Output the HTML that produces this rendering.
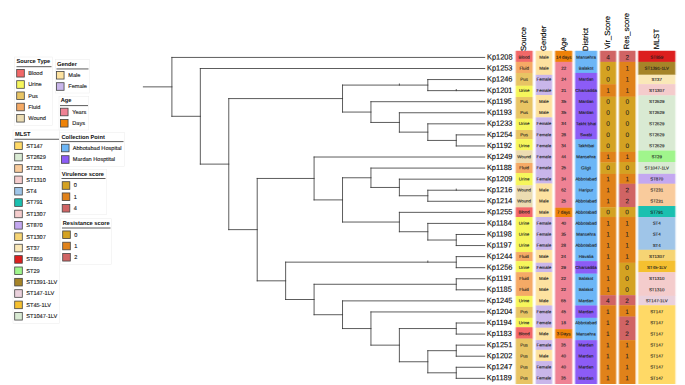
<!DOCTYPE html>
<html><head><meta charset="utf-8"><title>tree</title>
<style>
html,body{margin:0;padding:0;background:#fff;}
body{width:685px;height:385px;overflow:hidden;}
svg{display:block;font-family:"Liberation Sans",sans-serif;text-rendering:geometricPrecision;}
</style></head><body>
<svg width="685" height="385" viewBox="0 0 685 385">
<rect width="685" height="385" fill="#fff"/>
<path d="M427.82 79.56L427.82 90.63M427.82 79.56L484.70 79.56M427.82 90.63L484.70 90.63M456.26 134.89L456.26 145.96M456.26 134.89L484.70 134.89M456.26 145.96L484.70 145.96M427.82 123.83L427.82 140.43M427.82 123.83L484.70 123.83M427.82 140.43L456.26 140.43M399.39 112.76L399.39 132.13M399.39 112.76L484.70 112.76M399.39 132.13L427.82 132.13M370.95 101.69L370.95 122.44M370.95 101.69L484.70 101.69M370.95 122.44L399.39 122.44M342.52 85.09L342.52 112.07M342.52 85.09L427.82 85.09M342.52 112.07L370.95 112.07M427.82 190.22L427.82 201.29M427.82 190.22L484.70 190.22M427.82 201.29L484.70 201.29M399.39 179.16L399.39 195.75M399.39 179.16L484.70 179.16M399.39 195.75L427.82 195.75M370.95 168.09L370.95 187.46M370.95 168.09L484.70 168.09M370.95 187.46L399.39 187.46M456.26 234.49L456.26 245.55M456.26 234.49L484.70 234.49M456.26 245.55L484.70 245.55M427.82 223.42L427.82 240.02M427.82 223.42L484.70 223.42M427.82 240.02L456.26 240.02M399.39 212.35L399.39 231.72M399.39 212.35L484.70 212.35M399.39 231.72L427.82 231.72M342.52 177.77L342.52 222.04M342.52 177.77L370.95 177.77M342.52 222.04L399.39 222.04M314.08 157.02L314.08 199.90M314.08 157.02L484.70 157.02M314.08 199.90L342.52 199.90M456.26 256.62L456.26 267.68M456.26 256.62L484.70 256.62M456.26 267.68L484.70 267.68M456.26 278.75L456.26 289.82M456.26 278.75L484.70 278.75M456.26 289.82L484.70 289.82M456.26 323.01L456.26 334.08M456.26 323.01L484.70 323.01M456.26 334.08L484.70 334.08M456.26 345.15L456.26 356.21M456.26 345.15L484.70 345.15M456.26 356.21L484.70 356.21M456.26 367.28L456.26 378.34M456.26 367.28L484.70 367.28M456.26 378.34L484.70 378.34M427.82 350.68L427.82 372.81M427.82 350.68L456.26 350.68M427.82 372.81L456.26 372.81M399.39 328.55L399.39 361.75M399.39 328.55L456.26 328.55M399.39 361.75L427.82 361.75M370.95 311.95L370.95 345.15M370.95 311.95L484.70 311.95M370.95 345.15L399.39 345.15M342.52 300.88L342.52 328.55M342.52 300.88L484.70 300.88M342.52 328.55L370.95 328.55M314.08 284.28L314.08 314.71M314.08 284.28L456.26 284.28M314.08 314.71L342.52 314.71M285.64 262.15L285.64 299.50M285.64 262.15L456.26 262.15M285.64 299.50L314.08 299.50M257.21 178.46L257.21 280.82M257.21 178.46L314.08 178.46M257.21 280.82L285.64 280.82M228.77 98.58L228.77 229.64M228.77 98.58L342.52 98.58M228.77 229.64L257.21 229.64M200.34 68.50L200.34 164.11M200.34 68.50L484.70 68.50M200.34 164.11L228.77 164.11M171.90 57.43L171.90 116.30M171.90 57.43L484.70 57.43M171.90 116.30L200.34 116.30M143.40 86.87L171.90 86.87M399.39 84.00L399.39 85.09M456.26 89.53L456.26 90.63M456.26 189.12L456.26 190.22M427.82 261.05L427.82 262.15" fill="none" stroke="#333" stroke-width="0.8" stroke-linecap="square"/>
<g font-size="7.6" fill="#0c0c0c" stroke="#0c0c0c" stroke-width="0.14" transform="rotate(0.03)">
<text transform="translate(487.0 59.18) scale(0.975 1)">Kp1208</text>
<text transform="translate(487.0 70.25) scale(0.975 1)">Kp1253</text>
<text transform="translate(487.0 81.31) scale(0.975 1)">Kp1246</text>
<text transform="translate(487.0 92.38) scale(0.975 1)">Kp1201</text>
<text transform="translate(487.0 103.44) scale(0.975 1)">Kp1195</text>
<text transform="translate(487.0 114.51) scale(0.975 1)">Kp1193</text>
<text transform="translate(487.0 125.58) scale(0.975 1)">Kp1233</text>
<text transform="translate(487.0 136.64) scale(0.975 1)">Kp1254</text>
<text transform="translate(487.0 147.71) scale(0.975 1)">Kp1192</text>
<text transform="translate(487.0 158.77) scale(0.975 1)">Kp1249</text>
<text transform="translate(487.0 169.84) scale(0.975 1)">Kp1188</text>
<text transform="translate(487.0 180.91) scale(0.975 1)">Kp1209</text>
<text transform="translate(487.0 191.97) scale(0.975 1)">Kp1216</text>
<text transform="translate(487.0 203.04) scale(0.975 1)">Kp1214</text>
<text transform="translate(487.0 214.10) scale(0.975 1)">Kp1255</text>
<text transform="translate(487.0 225.17) scale(0.975 1)">Kp1184</text>
<text transform="translate(487.0 236.24) scale(0.975 1)">Kp1198</text>
<text transform="translate(487.0 247.30) scale(0.975 1)">Kp1197</text>
<text transform="translate(487.0 258.37) scale(0.975 1)">Kp1244</text>
<text transform="translate(487.0 269.43) scale(0.975 1)">Kp1256</text>
<text transform="translate(487.0 280.50) scale(0.975 1)">Kp1191</text>
<text transform="translate(487.0 291.57) scale(0.975 1)">Kp1185</text>
<text transform="translate(487.0 302.63) scale(0.975 1)">Kp1245</text>
<text transform="translate(487.0 313.70) scale(0.975 1)">Kp1204</text>
<text transform="translate(487.0 324.76) scale(0.975 1)">Kp1194</text>
<text transform="translate(487.0 335.83) scale(0.975 1)">Kp1183</text>
<text transform="translate(487.0 346.90) scale(0.975 1)">Kp1251</text>
<text transform="translate(487.0 357.96) scale(0.975 1)">Kp1202</text>
<text transform="translate(487.0 369.03) scale(0.975 1)">Kp1247</text>
<text transform="translate(487.0 380.09) scale(0.975 1)">Kp1189</text>
</g>
<rect x="514.70" y="50.85" width="19.00" height="11.06" fill="#f26868" opacity="0.2"/>
<rect x="515.50" y="50.85" width="17.40" height="11.06" fill="#f26868" opacity="0.45"/>
<rect x="516.25" y="50.85" width="15.90" height="11.06" fill="#f26868"/>
<rect x="514.70" y="61.91" width="19.00" height="11.10" fill="#f5aa66" opacity="0.2"/>
<rect x="515.50" y="61.91" width="17.40" height="11.10" fill="#f5aa66" opacity="0.45"/>
<rect x="516.25" y="61.91" width="15.90" height="11.10" fill="#f5aa66"/>
<rect x="514.70" y="73.00" width="19.00" height="12.80" fill="#e8c464" opacity="0.2"/>
<rect x="515.50" y="73.00" width="17.40" height="12.80" fill="#e8c464" opacity="0.45"/>
<rect x="516.25" y="73.00" width="15.90" height="12.80" fill="#e8c464"/>
<rect x="514.70" y="85.80" width="19.00" height="11.25" fill="#f6f65c" opacity="0.2"/>
<rect x="515.50" y="85.80" width="17.40" height="11.25" fill="#f6f65c" opacity="0.45"/>
<rect x="516.25" y="85.80" width="15.90" height="11.25" fill="#f6f65c"/>
<rect x="514.70" y="97.04" width="19.00" height="21.71" fill="#e8c464" opacity="0.2"/>
<rect x="515.50" y="97.04" width="17.40" height="21.71" fill="#e8c464" opacity="0.45"/>
<rect x="516.25" y="97.04" width="15.90" height="21.71" fill="#e8c464"/>
<rect x="514.70" y="118.76" width="19.00" height="11.29" fill="#f6f65c" opacity="0.2"/>
<rect x="515.50" y="118.76" width="17.40" height="11.29" fill="#f6f65c" opacity="0.45"/>
<rect x="516.25" y="118.76" width="15.90" height="11.29" fill="#f6f65c"/>
<rect x="514.70" y="130.04" width="19.00" height="9.14" fill="#e8c464" opacity="0.2"/>
<rect x="515.50" y="130.04" width="17.40" height="9.14" fill="#e8c464" opacity="0.45"/>
<rect x="516.25" y="130.04" width="15.90" height="9.14" fill="#e8c464"/>
<rect x="514.70" y="139.18" width="19.00" height="11.32" fill="#f6f65c" opacity="0.2"/>
<rect x="515.50" y="139.18" width="17.40" height="11.32" fill="#f6f65c" opacity="0.45"/>
<rect x="516.25" y="139.18" width="15.90" height="11.32" fill="#f6f65c"/>
<rect x="514.70" y="150.49" width="19.00" height="12.52" fill="#ecdcb2" opacity="0.2"/>
<rect x="515.50" y="150.49" width="17.40" height="12.52" fill="#ecdcb2" opacity="0.45"/>
<rect x="516.25" y="150.49" width="15.90" height="12.52" fill="#ecdcb2"/>
<rect x="514.70" y="163.01" width="19.00" height="10.02" fill="#f5aa66" opacity="0.2"/>
<rect x="515.50" y="163.01" width="17.40" height="10.02" fill="#f5aa66" opacity="0.45"/>
<rect x="516.25" y="163.01" width="15.90" height="10.02" fill="#f5aa66"/>
<rect x="514.70" y="173.03" width="19.00" height="12.44" fill="#f6f65c" opacity="0.2"/>
<rect x="515.50" y="173.03" width="17.40" height="12.44" fill="#f6f65c" opacity="0.45"/>
<rect x="516.25" y="173.03" width="15.90" height="12.44" fill="#f6f65c"/>
<rect x="514.70" y="185.46" width="19.00" height="22.01" fill="#ecdcb2" opacity="0.2"/>
<rect x="515.50" y="185.46" width="17.40" height="22.01" fill="#ecdcb2" opacity="0.45"/>
<rect x="516.25" y="185.46" width="15.90" height="22.01" fill="#ecdcb2"/>
<rect x="514.70" y="207.47" width="19.00" height="9.57" fill="#f26868" opacity="0.2"/>
<rect x="515.50" y="207.47" width="17.40" height="9.57" fill="#f26868" opacity="0.45"/>
<rect x="516.25" y="207.47" width="15.90" height="9.57" fill="#f26868"/>
<rect x="514.70" y="217.04" width="19.00" height="35.08" fill="#f6f65c" opacity="0.2"/>
<rect x="515.50" y="217.04" width="17.40" height="35.08" fill="#f6f65c" opacity="0.45"/>
<rect x="516.25" y="217.04" width="15.90" height="35.08" fill="#f6f65c"/>
<rect x="514.70" y="252.12" width="19.00" height="9.09" fill="#f5aa66" opacity="0.2"/>
<rect x="515.50" y="252.12" width="17.40" height="9.09" fill="#f5aa66" opacity="0.45"/>
<rect x="516.25" y="252.12" width="15.90" height="9.09" fill="#f5aa66"/>
<rect x="514.70" y="261.20" width="19.00" height="11.05" fill="#f6f65c" opacity="0.2"/>
<rect x="515.50" y="261.20" width="17.40" height="11.05" fill="#f6f65c" opacity="0.45"/>
<rect x="516.25" y="261.20" width="15.90" height="11.05" fill="#f6f65c"/>
<rect x="514.70" y="272.25" width="19.00" height="23.68" fill="#f5aa66" opacity="0.2"/>
<rect x="515.50" y="272.25" width="17.40" height="23.68" fill="#f5aa66" opacity="0.45"/>
<rect x="516.25" y="272.25" width="15.90" height="23.68" fill="#f5aa66"/>
<rect x="514.70" y="295.93" width="19.00" height="11.05" fill="#f6f65c" opacity="0.2"/>
<rect x="515.50" y="295.93" width="17.40" height="11.05" fill="#f6f65c" opacity="0.45"/>
<rect x="516.25" y="295.93" width="15.90" height="11.05" fill="#f6f65c"/>
<rect x="514.70" y="306.98" width="19.00" height="10.91" fill="#e8c464" opacity="0.2"/>
<rect x="515.50" y="306.98" width="17.40" height="10.91" fill="#e8c464" opacity="0.45"/>
<rect x="516.25" y="306.98" width="15.90" height="10.91" fill="#e8c464"/>
<rect x="514.70" y="317.88" width="19.00" height="9.47" fill="#f6f65c" opacity="0.2"/>
<rect x="515.50" y="317.88" width="17.40" height="9.47" fill="#f6f65c" opacity="0.45"/>
<rect x="516.25" y="317.88" width="15.90" height="9.47" fill="#f6f65c"/>
<rect x="514.70" y="327.35" width="19.00" height="11.35" fill="#f26868" opacity="0.2"/>
<rect x="515.50" y="327.35" width="17.40" height="11.35" fill="#f26868" opacity="0.45"/>
<rect x="516.25" y="327.35" width="15.90" height="11.35" fill="#f26868"/>
<rect x="514.70" y="338.70" width="19.00" height="45.30" fill="#e8c464" opacity="0.2"/>
<rect x="515.50" y="338.70" width="17.40" height="45.30" fill="#e8c464" opacity="0.45"/>
<rect x="516.25" y="338.70" width="15.90" height="45.30" fill="#e8c464"/>
<rect x="534.70" y="50.85" width="18.50" height="24.05" fill="#fde2a0" opacity="0.2"/>
<rect x="535.50" y="50.85" width="16.90" height="24.05" fill="#fde2a0" opacity="0.45"/>
<rect x="536.25" y="50.85" width="15.40" height="24.05" fill="#fde2a0"/>
<rect x="534.70" y="74.90" width="18.50" height="20.26" fill="#c9b6ea" opacity="0.2"/>
<rect x="535.50" y="74.90" width="16.90" height="20.26" fill="#c9b6ea" opacity="0.45"/>
<rect x="536.25" y="74.90" width="15.40" height="20.26" fill="#c9b6ea"/>
<rect x="534.70" y="95.16" width="18.50" height="22.33" fill="#fde2a0" opacity="0.2"/>
<rect x="535.50" y="95.16" width="16.90" height="22.33" fill="#fde2a0" opacity="0.45"/>
<rect x="536.25" y="95.16" width="15.40" height="22.33" fill="#fde2a0"/>
<rect x="534.70" y="117.50" width="18.50" height="66.10" fill="#c9b6ea" opacity="0.2"/>
<rect x="535.50" y="117.50" width="16.90" height="66.10" fill="#c9b6ea" opacity="0.45"/>
<rect x="536.25" y="117.50" width="15.40" height="66.10" fill="#c9b6ea"/>
<rect x="534.70" y="183.59" width="18.50" height="33.45" fill="#fde2a0" opacity="0.2"/>
<rect x="535.50" y="183.59" width="16.90" height="33.45" fill="#fde2a0" opacity="0.45"/>
<rect x="536.25" y="183.59" width="15.40" height="33.45" fill="#fde2a0"/>
<rect x="534.70" y="217.04" width="18.50" height="32.88" fill="#c9b6ea" opacity="0.2"/>
<rect x="535.50" y="217.04" width="16.90" height="32.88" fill="#c9b6ea" opacity="0.45"/>
<rect x="536.25" y="217.04" width="15.40" height="32.88" fill="#c9b6ea"/>
<rect x="534.70" y="249.92" width="18.50" height="12.92" fill="#fde2a0" opacity="0.2"/>
<rect x="535.50" y="249.92" width="16.90" height="12.92" fill="#fde2a0" opacity="0.45"/>
<rect x="536.25" y="249.92" width="15.40" height="12.92" fill="#fde2a0"/>
<rect x="534.70" y="262.83" width="18.50" height="9.42" fill="#c9b6ea" opacity="0.2"/>
<rect x="535.50" y="262.83" width="16.90" height="9.42" fill="#c9b6ea" opacity="0.45"/>
<rect x="536.25" y="262.83" width="15.40" height="9.42" fill="#c9b6ea"/>
<rect x="534.70" y="272.25" width="18.50" height="33.35" fill="#fde2a0" opacity="0.2"/>
<rect x="535.50" y="272.25" width="16.90" height="33.35" fill="#fde2a0" opacity="0.45"/>
<rect x="536.25" y="272.25" width="15.40" height="33.35" fill="#fde2a0"/>
<rect x="534.70" y="305.60" width="18.50" height="22.20" fill="#c9b6ea" opacity="0.2"/>
<rect x="535.50" y="305.60" width="16.90" height="22.20" fill="#c9b6ea" opacity="0.45"/>
<rect x="536.25" y="305.60" width="15.40" height="22.20" fill="#c9b6ea"/>
<rect x="534.70" y="327.80" width="18.50" height="12.40" fill="#fde2a0" opacity="0.2"/>
<rect x="535.50" y="327.80" width="16.90" height="12.40" fill="#fde2a0" opacity="0.45"/>
<rect x="536.25" y="327.80" width="15.40" height="12.40" fill="#fde2a0"/>
<rect x="534.70" y="340.20" width="18.50" height="9.69" fill="#c9b6ea" opacity="0.2"/>
<rect x="535.50" y="340.20" width="16.90" height="9.69" fill="#c9b6ea" opacity="0.45"/>
<rect x="536.25" y="340.20" width="15.40" height="9.69" fill="#c9b6ea"/>
<rect x="534.70" y="349.88" width="18.50" height="11.29" fill="#fde2a0" opacity="0.2"/>
<rect x="535.50" y="349.88" width="16.90" height="11.29" fill="#fde2a0" opacity="0.45"/>
<rect x="536.25" y="349.88" width="15.40" height="11.29" fill="#fde2a0"/>
<rect x="534.70" y="361.17" width="18.50" height="22.83" fill="#c9b6ea" opacity="0.2"/>
<rect x="535.50" y="361.17" width="16.90" height="22.83" fill="#c9b6ea" opacity="0.45"/>
<rect x="536.25" y="361.17" width="15.40" height="22.83" fill="#c9b6ea"/>
<rect x="554.10" y="50.85" width="19.20" height="11.06" fill="#ee8208" opacity="0.2"/>
<rect x="554.90" y="50.85" width="17.60" height="11.06" fill="#ee8208" opacity="0.45"/>
<rect x="555.65" y="50.85" width="16.10" height="11.06" fill="#ee8208"/>
<rect x="554.10" y="61.91" width="19.20" height="145.92" fill="#ef8294" opacity="0.2"/>
<rect x="554.90" y="61.91" width="17.60" height="145.92" fill="#ef8294" opacity="0.45"/>
<rect x="555.65" y="61.91" width="16.10" height="145.92" fill="#ef8294"/>
<rect x="554.10" y="207.82" width="19.20" height="9.22" fill="#ee8208" opacity="0.2"/>
<rect x="554.90" y="207.82" width="17.60" height="9.22" fill="#ee8208" opacity="0.45"/>
<rect x="555.65" y="207.82" width="16.10" height="9.22" fill="#ee8208"/>
<rect x="554.10" y="217.04" width="19.20" height="112.20" fill="#ef8294" opacity="0.2"/>
<rect x="554.90" y="217.04" width="17.60" height="112.20" fill="#ef8294" opacity="0.45"/>
<rect x="555.65" y="217.04" width="16.10" height="112.20" fill="#ef8294"/>
<rect x="554.10" y="329.24" width="19.20" height="9.46" fill="#ee8208" opacity="0.2"/>
<rect x="554.90" y="329.24" width="17.60" height="9.46" fill="#ee8208" opacity="0.45"/>
<rect x="555.65" y="329.24" width="16.10" height="9.46" fill="#ee8208"/>
<rect x="554.10" y="338.70" width="19.20" height="45.30" fill="#ef8294" opacity="0.2"/>
<rect x="554.90" y="338.70" width="17.60" height="45.30" fill="#ef8294" opacity="0.45"/>
<rect x="555.65" y="338.70" width="16.10" height="45.30" fill="#ef8294"/>
<rect x="574.10" y="50.85" width="24.10" height="22.10" fill="#6cb6f6" opacity="0.2"/>
<rect x="574.90" y="50.85" width="22.50" height="22.10" fill="#6cb6f6" opacity="0.45"/>
<rect x="575.65" y="50.85" width="21.00" height="22.10" fill="#6cb6f6"/>
<rect x="574.10" y="72.95" width="24.10" height="66.61" fill="#8c5cf6" opacity="0.2"/>
<rect x="574.90" y="72.95" width="22.50" height="66.61" fill="#8c5cf6" opacity="0.45"/>
<rect x="575.65" y="72.95" width="21.00" height="66.61" fill="#8c5cf6"/>
<rect x="574.10" y="139.56" width="24.10" height="121.65" fill="#6cb6f6" opacity="0.2"/>
<rect x="574.90" y="139.56" width="22.50" height="121.65" fill="#6cb6f6" opacity="0.45"/>
<rect x="575.65" y="139.56" width="21.00" height="121.65" fill="#6cb6f6"/>
<rect x="574.10" y="261.20" width="24.10" height="12.55" fill="#8c5cf6" opacity="0.2"/>
<rect x="574.90" y="261.20" width="22.50" height="12.55" fill="#8c5cf6" opacity="0.45"/>
<rect x="575.65" y="261.20" width="21.00" height="12.55" fill="#8c5cf6"/>
<rect x="574.10" y="273.75" width="24.10" height="31.85" fill="#6cb6f6" opacity="0.2"/>
<rect x="574.90" y="273.75" width="22.50" height="31.85" fill="#6cb6f6" opacity="0.45"/>
<rect x="575.65" y="273.75" width="21.00" height="31.85" fill="#6cb6f6"/>
<rect x="574.10" y="305.60" width="24.10" height="12.29" fill="#8c5cf6" opacity="0.2"/>
<rect x="574.90" y="305.60" width="22.50" height="12.29" fill="#8c5cf6" opacity="0.45"/>
<rect x="575.65" y="305.60" width="21.00" height="12.29" fill="#8c5cf6"/>
<rect x="574.10" y="317.88" width="24.10" height="22.31" fill="#6cb6f6" opacity="0.2"/>
<rect x="574.90" y="317.88" width="22.50" height="22.31" fill="#6cb6f6" opacity="0.45"/>
<rect x="575.65" y="317.88" width="21.00" height="22.31" fill="#6cb6f6"/>
<rect x="574.10" y="340.20" width="24.10" height="43.80" fill="#8c5cf6" opacity="0.2"/>
<rect x="574.90" y="340.20" width="22.50" height="43.80" fill="#8c5cf6" opacity="0.45"/>
<rect x="575.65" y="340.20" width="21.00" height="43.80" fill="#8c5cf6"/>
<rect x="599.00" y="50.85" width="18.20" height="11.06" fill="#d06464" opacity="0.2"/>
<rect x="599.80" y="50.85" width="16.60" height="11.06" fill="#d06464" opacity="0.45"/>
<rect x="600.55" y="50.85" width="15.10" height="11.06" fill="#d06464"/>
<rect x="599.00" y="61.91" width="18.20" height="22.34" fill="#d4a222" opacity="0.2"/>
<rect x="599.80" y="61.91" width="16.60" height="22.34" fill="#d4a222" opacity="0.45"/>
<rect x="600.55" y="61.91" width="15.10" height="22.34" fill="#d4a222"/>
<rect x="599.00" y="84.25" width="18.20" height="12.56" fill="#e0821a" opacity="0.2"/>
<rect x="599.80" y="84.25" width="16.60" height="12.56" fill="#e0821a" opacity="0.45"/>
<rect x="600.55" y="84.25" width="15.10" height="12.56" fill="#e0821a"/>
<rect x="599.00" y="96.80" width="18.20" height="55.12" fill="#d4a222" opacity="0.2"/>
<rect x="599.80" y="96.80" width="16.60" height="55.12" fill="#d4a222" opacity="0.45"/>
<rect x="600.55" y="96.80" width="15.10" height="55.12" fill="#d4a222"/>
<rect x="599.00" y="151.92" width="18.20" height="10.64" fill="#e0821a" opacity="0.2"/>
<rect x="599.80" y="151.92" width="16.60" height="10.64" fill="#e0821a" opacity="0.45"/>
<rect x="600.55" y="151.92" width="15.10" height="10.64" fill="#e0821a"/>
<rect x="599.00" y="162.56" width="18.20" height="11.34" fill="#d4a222" opacity="0.2"/>
<rect x="599.80" y="162.56" width="16.60" height="11.34" fill="#d4a222" opacity="0.45"/>
<rect x="600.55" y="162.56" width="15.10" height="11.34" fill="#d4a222"/>
<rect x="599.00" y="173.90" width="18.20" height="33.50" fill="#e0821a" opacity="0.2"/>
<rect x="599.80" y="173.90" width="16.60" height="33.50" fill="#e0821a" opacity="0.45"/>
<rect x="600.55" y="173.90" width="15.10" height="33.50" fill="#e0821a"/>
<rect x="599.00" y="207.39" width="18.20" height="9.65" fill="#d4a222" opacity="0.2"/>
<rect x="599.80" y="207.39" width="16.60" height="9.65" fill="#d4a222" opacity="0.45"/>
<rect x="600.55" y="207.39" width="15.10" height="9.65" fill="#d4a222"/>
<rect x="599.00" y="217.04" width="18.20" height="78.23" fill="#e0821a" opacity="0.2"/>
<rect x="599.80" y="217.04" width="16.60" height="78.23" fill="#e0821a" opacity="0.45"/>
<rect x="600.55" y="217.04" width="15.10" height="78.23" fill="#e0821a"/>
<rect x="599.00" y="295.27" width="18.20" height="10.10" fill="#d06464" opacity="0.2"/>
<rect x="599.80" y="295.27" width="16.60" height="10.10" fill="#d06464" opacity="0.45"/>
<rect x="600.55" y="295.27" width="15.10" height="10.10" fill="#d06464"/>
<rect x="599.00" y="305.37" width="18.20" height="78.63" fill="#e0821a" opacity="0.2"/>
<rect x="599.80" y="305.37" width="16.60" height="78.63" fill="#e0821a" opacity="0.45"/>
<rect x="600.55" y="305.37" width="15.10" height="78.63" fill="#e0821a"/>
<rect x="618.00" y="50.85" width="18.60" height="11.06" fill="#d06464" opacity="0.2"/>
<rect x="618.80" y="50.85" width="17.00" height="11.06" fill="#d06464" opacity="0.45"/>
<rect x="619.55" y="50.85" width="15.50" height="11.06" fill="#d06464"/>
<rect x="618.00" y="61.91" width="18.60" height="34.90" fill="#e0821a" opacity="0.2"/>
<rect x="618.80" y="61.91" width="17.00" height="34.90" fill="#e0821a" opacity="0.45"/>
<rect x="619.55" y="61.91" width="15.50" height="34.90" fill="#e0821a"/>
<rect x="618.00" y="96.80" width="18.60" height="55.12" fill="#d4a222" opacity="0.2"/>
<rect x="618.80" y="96.80" width="17.00" height="55.12" fill="#d4a222" opacity="0.45"/>
<rect x="619.55" y="96.80" width="15.50" height="55.12" fill="#d4a222"/>
<rect x="618.00" y="151.92" width="18.60" height="10.08" fill="#e0821a" opacity="0.2"/>
<rect x="618.80" y="151.92" width="17.00" height="10.08" fill="#e0821a" opacity="0.45"/>
<rect x="619.55" y="151.92" width="15.50" height="10.08" fill="#e0821a"/>
<rect x="618.00" y="162.00" width="18.60" height="11.90" fill="#d4a222" opacity="0.2"/>
<rect x="618.80" y="162.00" width="17.00" height="11.90" fill="#d4a222" opacity="0.45"/>
<rect x="619.55" y="162.00" width="15.50" height="11.90" fill="#d4a222"/>
<rect x="618.00" y="173.90" width="18.60" height="9.93" fill="#e0821a" opacity="0.2"/>
<rect x="618.80" y="173.90" width="17.00" height="9.93" fill="#e0821a" opacity="0.45"/>
<rect x="619.55" y="173.90" width="15.50" height="9.93" fill="#e0821a"/>
<rect x="618.00" y="183.82" width="18.60" height="23.20" fill="#d06464" opacity="0.2"/>
<rect x="618.80" y="183.82" width="17.00" height="23.20" fill="#d06464" opacity="0.45"/>
<rect x="619.55" y="183.82" width="15.50" height="23.20" fill="#d06464"/>
<rect x="618.00" y="207.02" width="18.60" height="10.02" fill="#d4a222" opacity="0.2"/>
<rect x="618.80" y="207.02" width="17.00" height="10.02" fill="#d4a222" opacity="0.45"/>
<rect x="619.55" y="207.02" width="15.50" height="10.02" fill="#d4a222"/>
<rect x="618.00" y="217.04" width="18.60" height="45.81" fill="#e0821a" opacity="0.2"/>
<rect x="618.80" y="217.04" width="17.00" height="45.81" fill="#e0821a" opacity="0.45"/>
<rect x="619.55" y="217.04" width="15.50" height="45.81" fill="#e0821a"/>
<rect x="618.00" y="262.85" width="18.60" height="32.42" fill="#d4a222" opacity="0.2"/>
<rect x="618.80" y="262.85" width="17.00" height="32.42" fill="#d4a222" opacity="0.45"/>
<rect x="619.55" y="262.85" width="15.50" height="32.42" fill="#d4a222"/>
<rect x="618.00" y="295.27" width="18.60" height="10.10" fill="#d06464" opacity="0.2"/>
<rect x="618.80" y="295.27" width="17.00" height="10.10" fill="#d06464" opacity="0.45"/>
<rect x="619.55" y="295.27" width="15.50" height="10.10" fill="#d06464"/>
<rect x="618.00" y="305.37" width="18.60" height="11.34" fill="#e0821a" opacity="0.2"/>
<rect x="618.80" y="305.37" width="17.00" height="11.34" fill="#e0821a" opacity="0.45"/>
<rect x="619.55" y="305.37" width="15.50" height="11.34" fill="#e0821a"/>
<rect x="618.00" y="316.70" width="18.60" height="23.47" fill="#d06464" opacity="0.2"/>
<rect x="618.80" y="316.70" width="17.00" height="23.47" fill="#d06464" opacity="0.45"/>
<rect x="619.55" y="316.70" width="15.50" height="23.47" fill="#d06464"/>
<rect x="618.00" y="340.18" width="18.60" height="43.82" fill="#e0821a" opacity="0.2"/>
<rect x="618.80" y="340.18" width="17.00" height="43.82" fill="#e0821a" opacity="0.45"/>
<rect x="619.55" y="340.18" width="15.50" height="43.82" fill="#e0821a"/>
<rect x="637.20" y="50.85" width="39.20" height="11.06" fill="#dc1e1e" opacity="0.2"/>
<rect x="638.00" y="50.85" width="37.60" height="11.06" fill="#dc1e1e" opacity="0.45"/>
<rect x="638.75" y="50.85" width="36.10" height="11.06" fill="#dc1e1e"/>
<rect x="637.20" y="61.91" width="39.20" height="12.93" fill="#a68428" opacity="0.2"/>
<rect x="638.00" y="61.91" width="37.60" height="12.93" fill="#a68428" opacity="0.45"/>
<rect x="638.75" y="61.91" width="36.10" height="12.93" fill="#a68428"/>
<rect x="637.20" y="74.83" width="39.20" height="9.42" fill="#fae8b8" opacity="0.2"/>
<rect x="638.00" y="74.83" width="37.60" height="9.42" fill="#fae8b8" opacity="0.45"/>
<rect x="638.75" y="74.83" width="36.10" height="9.42" fill="#fae8b8"/>
<rect x="637.20" y="84.25" width="39.20" height="11.32" fill="#f4cccc" opacity="0.2"/>
<rect x="638.00" y="84.25" width="37.60" height="11.32" fill="#f4cccc" opacity="0.45"/>
<rect x="638.75" y="84.25" width="36.10" height="11.32" fill="#f4cccc"/>
<rect x="637.20" y="95.56" width="39.20" height="55.13" fill="#d9ead3" opacity="0.2"/>
<rect x="638.00" y="95.56" width="37.60" height="55.13" fill="#d9ead3" opacity="0.45"/>
<rect x="638.75" y="95.56" width="36.10" height="55.13" fill="#d9ead3"/>
<rect x="637.20" y="150.69" width="39.20" height="11.31" fill="#a0f58c" opacity="0.2"/>
<rect x="638.00" y="150.69" width="37.60" height="11.31" fill="#a0f58c" opacity="0.45"/>
<rect x="638.75" y="150.69" width="36.10" height="11.31" fill="#a0f58c"/>
<rect x="637.20" y="162.00" width="39.20" height="11.90" fill="#d9ead3" opacity="0.2"/>
<rect x="638.00" y="162.00" width="37.60" height="11.90" fill="#d9ead3" opacity="0.45"/>
<rect x="638.75" y="162.00" width="36.10" height="11.90" fill="#d9ead3"/>
<rect x="637.20" y="173.90" width="39.20" height="9.93" fill="#c4a8f0" opacity="0.2"/>
<rect x="638.00" y="173.90" width="37.60" height="9.93" fill="#c4a8f0" opacity="0.45"/>
<rect x="638.75" y="173.90" width="36.10" height="9.93" fill="#c4a8f0"/>
<rect x="637.20" y="183.82" width="39.20" height="22.20" fill="#f9cb9c" opacity="0.2"/>
<rect x="638.00" y="183.82" width="37.60" height="22.20" fill="#f9cb9c" opacity="0.45"/>
<rect x="638.75" y="183.82" width="36.10" height="22.20" fill="#f9cb9c"/>
<rect x="637.20" y="206.02" width="39.20" height="11.02" fill="#1ac0b0" opacity="0.2"/>
<rect x="638.00" y="206.02" width="37.60" height="11.02" fill="#1ac0b0" opacity="0.45"/>
<rect x="638.75" y="206.02" width="36.10" height="11.02" fill="#1ac0b0"/>
<rect x="637.20" y="217.04" width="39.20" height="32.83" fill="#9fc5e8" opacity="0.2"/>
<rect x="638.00" y="217.04" width="37.60" height="32.83" fill="#9fc5e8" opacity="0.45"/>
<rect x="638.75" y="217.04" width="36.10" height="32.83" fill="#9fc5e8"/>
<rect x="637.20" y="249.87" width="39.20" height="11.04" fill="#f6d474" opacity="0.2"/>
<rect x="638.00" y="249.87" width="37.60" height="11.04" fill="#f6d474" opacity="0.45"/>
<rect x="638.75" y="249.87" width="36.10" height="11.04" fill="#f6d474"/>
<rect x="637.20" y="260.90" width="39.20" height="11.40" fill="#f5c030" opacity="0.2"/>
<rect x="638.00" y="260.90" width="37.60" height="11.40" fill="#f5c030" opacity="0.45"/>
<rect x="638.75" y="260.90" width="36.10" height="11.40" fill="#f5c030"/>
<rect x="637.20" y="272.30" width="39.20" height="23.60" fill="#f4cccc" opacity="0.2"/>
<rect x="638.00" y="272.30" width="37.60" height="23.60" fill="#f4cccc" opacity="0.45"/>
<rect x="638.75" y="272.30" width="36.10" height="23.60" fill="#f4cccc"/>
<rect x="637.20" y="295.90" width="39.20" height="9.47" fill="#ead1dc" opacity="0.2"/>
<rect x="638.00" y="295.90" width="37.60" height="9.47" fill="#ead1dc" opacity="0.45"/>
<rect x="638.75" y="295.90" width="36.10" height="9.47" fill="#ead1dc"/>
<rect x="637.20" y="305.37" width="39.20" height="78.63" fill="#ffd966" opacity="0.2"/>
<rect x="638.00" y="305.37" width="37.60" height="78.63" fill="#ffd966" opacity="0.45"/>
<rect x="638.75" y="305.37" width="36.10" height="78.63" fill="#ffd966"/>
<g font-size="4.4" fill="#1c1c1c" stroke="#1c1c1c" stroke-width="0.11" text-anchor="middle" transform="rotate(0.03)">
<text x="524.20" y="58.43">Blood</text>
<text x="543.95" y="58.43">Male</text>
<text x="563.70" y="58.43">14 days</text>
<text x="586.15" y="58.43">Mansehra</text>
<text x="656.80" y="58.43">ST859</text>
<text x="524.20" y="69.50">Fluid</text>
<text x="543.95" y="69.50">Male</text>
<text x="563.70" y="69.50">22</text>
<text x="586.15" y="69.50">Balakot</text>
<text x="656.80" y="69.50">ST1391-1LV</text>
<text x="524.20" y="80.56">Pus</text>
<text x="543.95" y="80.56">Female</text>
<text x="563.70" y="80.56">24</text>
<text x="586.15" y="80.56">Mardan</text>
<text x="656.80" y="80.56">ST37</text>
<text x="524.20" y="91.63">Urine</text>
<text x="543.95" y="91.63">Female</text>
<text x="563.70" y="91.63">21</text>
<text x="586.15" y="91.63">Charsadda</text>
<text x="656.80" y="91.63">ST1307</text>
<text x="524.20" y="102.69">Pus</text>
<text x="543.95" y="102.69">Male</text>
<text x="563.70" y="102.69">35</text>
<text x="586.15" y="102.69">Mardan</text>
<text x="656.80" y="102.69">ST2629</text>
<text x="524.20" y="113.76">Pus</text>
<text x="543.95" y="113.76">Male</text>
<text x="563.70" y="113.76">35</text>
<text x="586.15" y="113.76">Mardan</text>
<text x="656.80" y="113.76">ST2629</text>
<text x="524.20" y="124.83">Urine</text>
<text x="543.95" y="124.83">Female</text>
<text x="563.70" y="124.83">34</text>
<text x="586.15" y="124.83">Takht bhai</text>
<text x="656.80" y="124.83">ST2629</text>
<text x="524.20" y="135.89">Pus</text>
<text x="543.95" y="135.89">Female</text>
<text x="563.70" y="135.89">28</text>
<text x="586.15" y="135.89">Swabi</text>
<text x="656.80" y="135.89">ST2629</text>
<text x="524.20" y="146.96">Urine</text>
<text x="543.95" y="146.96">Female</text>
<text x="563.70" y="146.96">34</text>
<text x="586.15" y="146.96">Takhtbai</text>
<text x="656.80" y="146.96">ST2629</text>
<text x="524.20" y="158.02">Wound</text>
<text x="543.95" y="158.02">Female</text>
<text x="563.70" y="158.02">44</text>
<text x="586.15" y="158.02">Mansehra</text>
<text x="656.80" y="158.02">ST29</text>
<text x="524.20" y="169.09">Fluid</text>
<text x="543.95" y="169.09">Female</text>
<text x="563.70" y="169.09">25</text>
<text x="586.15" y="169.09">Gilgit</text>
<text x="656.80" y="169.09">ST1047-1LV</text>
<text x="524.20" y="180.16">Urine</text>
<text x="543.95" y="180.16">Female</text>
<text x="563.70" y="180.16">34</text>
<text x="586.15" y="180.16">Abbotabad</text>
<text x="656.80" y="180.16">ST870</text>
<text x="524.20" y="191.22">Wound</text>
<text x="543.95" y="191.22">Male</text>
<text x="563.70" y="191.22">62</text>
<text x="586.15" y="191.22">Haripur</text>
<text x="656.80" y="191.22">ST231</text>
<text x="524.20" y="202.29">Wound</text>
<text x="543.95" y="202.29">Male</text>
<text x="563.70" y="202.29">25</text>
<text x="586.15" y="202.29">Abbotabad</text>
<text x="656.80" y="202.29">ST231</text>
<text x="524.20" y="213.35">Blood</text>
<text x="543.95" y="213.35">Male</text>
<text x="563.70" y="213.35">7 days</text>
<text x="586.15" y="213.35">Abbotabad</text>
<text x="656.80" y="213.35">ST791</text>
<text x="524.20" y="224.42">Urine</text>
<text x="543.95" y="224.42">Female</text>
<text x="563.70" y="224.42">40</text>
<text x="586.15" y="224.42">Abbotabad</text>
<text x="656.80" y="224.42">ST4</text>
<text x="524.20" y="235.49">Urine</text>
<text x="543.95" y="235.49">Female</text>
<text x="563.70" y="235.49">35</text>
<text x="586.15" y="235.49">Mansehra</text>
<text x="656.80" y="235.49">ST4</text>
<text x="524.20" y="246.55">Urine</text>
<text x="543.95" y="246.55">Female</text>
<text x="563.70" y="246.55">28</text>
<text x="586.15" y="246.55">Abbotabad</text>
<text x="656.80" y="246.55">ST4</text>
<text x="524.20" y="257.62">Fluid</text>
<text x="543.95" y="257.62">Male</text>
<text x="563.70" y="257.62">24</text>
<text x="586.15" y="257.62">Havalia</text>
<text x="656.80" y="257.62">ST1307</text>
<text x="524.20" y="268.68">Urine</text>
<text x="543.95" y="268.68">Female</text>
<text x="563.70" y="268.68">29</text>
<text x="586.15" y="268.68">Charsadda</text>
<text x="656.80" y="268.68">ST45-1LV</text>
<text x="524.20" y="279.75">Fluid</text>
<text x="543.95" y="279.75">Male</text>
<text x="563.70" y="279.75">22</text>
<text x="586.15" y="279.75">Balakot</text>
<text x="656.80" y="279.75">ST1310</text>
<text x="524.20" y="290.82">Fluid</text>
<text x="543.95" y="290.82">Male</text>
<text x="563.70" y="290.82">22</text>
<text x="586.15" y="290.82">Balakot</text>
<text x="656.80" y="290.82">ST1310</text>
<text x="524.20" y="301.88">Urine</text>
<text x="543.95" y="301.88">Male</text>
<text x="563.70" y="301.88">65</text>
<text x="586.15" y="301.88">Mardan</text>
<text x="656.80" y="301.88">ST147-1LV</text>
<text x="524.20" y="312.95">Pus</text>
<text x="543.95" y="312.95">Female</text>
<text x="563.70" y="312.95">45</text>
<text x="586.15" y="312.95">Mardan</text>
<text x="656.80" y="312.95">ST147</text>
<text x="524.20" y="324.01">Urine</text>
<text x="543.95" y="324.01">Female</text>
<text x="563.70" y="324.01">18</text>
<text x="586.15" y="324.01">Abbotabad</text>
<text x="656.80" y="324.01">ST147</text>
<text x="524.20" y="335.08">Blood</text>
<text x="543.95" y="335.08">Male</text>
<text x="563.70" y="335.08">3 Days</text>
<text x="586.15" y="335.08">Mansehra</text>
<text x="656.80" y="335.08">ST147</text>
<text x="524.20" y="346.15">Pus</text>
<text x="543.95" y="346.15">Female</text>
<text x="563.70" y="346.15">35</text>
<text x="586.15" y="346.15">Mardan</text>
<text x="656.80" y="346.15">ST147</text>
<text x="524.20" y="357.21">Pus</text>
<text x="543.95" y="357.21">Male</text>
<text x="563.70" y="357.21">40</text>
<text x="586.15" y="357.21">Mardan</text>
<text x="656.80" y="357.21">ST147</text>
<text x="524.20" y="368.28">Pus</text>
<text x="543.95" y="368.28">Female</text>
<text x="563.70" y="368.28">40</text>
<text x="586.15" y="368.28">Mardan</text>
<text x="656.80" y="368.28">ST147</text>
<text x="524.20" y="379.34">Pus</text>
<text x="543.95" y="379.34">Female</text>
<text x="563.70" y="379.34">35</text>
<text x="586.15" y="379.34">Mardan</text>
<text x="656.80" y="379.34">ST147</text>
</g>
<g font-size="6.5" fill="#1a1a1a" stroke="#1a1a1a" stroke-width="0.06" text-anchor="middle" transform="rotate(0.03)">
<text x="608.10" y="59.13">4</text>
<text x="627.30" y="59.13">2</text>
<text x="608.10" y="70.20">0</text>
<text x="627.30" y="70.20">1</text>
<text x="608.10" y="81.26">0</text>
<text x="627.30" y="81.26">1</text>
<text x="608.10" y="92.33">1</text>
<text x="627.30" y="92.33">1</text>
<text x="608.10" y="103.39">0</text>
<text x="627.30" y="103.39">0</text>
<text x="608.10" y="114.46">0</text>
<text x="627.30" y="114.46">0</text>
<text x="608.10" y="125.53">0</text>
<text x="627.30" y="125.53">0</text>
<text x="608.10" y="136.59">0</text>
<text x="627.30" y="136.59">0</text>
<text x="608.10" y="147.66">0</text>
<text x="627.30" y="147.66">0</text>
<text x="608.10" y="158.72">1</text>
<text x="627.30" y="158.72">1</text>
<text x="608.10" y="169.79">0</text>
<text x="627.30" y="169.79">0</text>
<text x="608.10" y="180.86">1</text>
<text x="627.30" y="180.86">1</text>
<text x="608.10" y="191.92">1</text>
<text x="627.30" y="191.92">2</text>
<text x="608.10" y="202.99">1</text>
<text x="627.30" y="202.99">2</text>
<text x="608.10" y="214.05">0</text>
<text x="627.30" y="214.05">0</text>
<text x="608.10" y="225.12">1</text>
<text x="627.30" y="225.12">1</text>
<text x="608.10" y="236.19">1</text>
<text x="627.30" y="236.19">1</text>
<text x="608.10" y="247.25">1</text>
<text x="627.30" y="247.25">1</text>
<text x="608.10" y="258.32">1</text>
<text x="627.30" y="258.32">1</text>
<text x="608.10" y="269.38">1</text>
<text x="627.30" y="269.38">0</text>
<text x="608.10" y="280.45">1</text>
<text x="627.30" y="280.45">0</text>
<text x="608.10" y="291.52">1</text>
<text x="627.30" y="291.52">0</text>
<text x="608.10" y="302.58">4</text>
<text x="627.30" y="302.58">2</text>
<text x="608.10" y="313.65">1</text>
<text x="627.30" y="313.65">1</text>
<text x="608.10" y="324.71">1</text>
<text x="627.30" y="324.71">2</text>
<text x="608.10" y="335.78">1</text>
<text x="627.30" y="335.78">2</text>
<text x="608.10" y="346.85">1</text>
<text x="627.30" y="346.85">1</text>
<text x="608.10" y="357.91">1</text>
<text x="627.30" y="357.91">1</text>
<text x="608.10" y="368.98">1</text>
<text x="627.30" y="368.98">1</text>
<text x="608.10" y="380.04">1</text>
<text x="627.30" y="380.04">1</text>
</g>
<g font-size="7.6" fill="#000" stroke="#000" stroke-width="0.12">
<text transform="translate(526.00 51.00) rotate(-90)">Source</text>
<text transform="translate(545.60 51.00) rotate(-90)">Gender</text>
<text transform="translate(565.60 51.00) rotate(-90)">Age</text>
<text transform="translate(588.10 51.00) rotate(-90)">District</text>
<text transform="translate(610.00 49.20) rotate(-90)">Vir_Score</text>
<text transform="translate(629.20 49.20) rotate(-90)">Res_score</text>
<text transform="translate(658.70 49.20) rotate(-90)">MLST</text>
</g>
<rect x="14.50" y="57.00" width="38.00" height="68.50" fill="#fff" stroke="#ececec" stroke-width="0.5"/>
<text x="16.50" y="63.20" font-size="5.7" font-weight="bold" fill="#111">Source Type</text>
<line x1="16.50" y1="66.70" x2="51.50" y2="66.70" stroke="#4a4a4a" stroke-width="0.9"/>
<rect x="16.70" y="69.45" width="7.6" height="7.6" fill="#f26868" stroke="#444" stroke-width="0.8"/>
<text x="28.25" y="75.15" font-size="5.6" fill="#222" stroke="#222" stroke-width="0.12">Blood</text>
<rect x="16.70" y="80.70" width="7.6" height="7.6" fill="#f6f65c" stroke="#444" stroke-width="0.8"/>
<text x="28.25" y="86.40" font-size="5.6" fill="#222" stroke="#222" stroke-width="0.12">Urine</text>
<rect x="16.70" y="91.95" width="7.6" height="7.6" fill="#e8c464" stroke="#444" stroke-width="0.8"/>
<text x="28.25" y="97.65" font-size="5.6" fill="#222" stroke="#222" stroke-width="0.12">Pus</text>
<rect x="16.70" y="103.20" width="7.6" height="7.6" fill="#f5aa66" stroke="#444" stroke-width="0.8"/>
<text x="28.25" y="108.90" font-size="5.6" fill="#222" stroke="#222" stroke-width="0.12">Fluid</text>
<rect x="16.70" y="114.45" width="7.6" height="7.6" fill="#ecdcb2" stroke="#444" stroke-width="0.8"/>
<text x="28.25" y="120.15" font-size="5.6" fill="#222" stroke="#222" stroke-width="0.12">Wound</text>
<rect x="55.50" y="59.50" width="33.75" height="33.50" fill="#fff" stroke="#ececec" stroke-width="0.5"/>
<text x="57.00" y="65.75" font-size="5.7" font-weight="bold" fill="#111">Gender</text>
<line x1="56.50" y1="68.95" x2="88.50" y2="68.95" stroke="#4a4a4a" stroke-width="0.9"/>
<rect x="56.45" y="71.45" width="7.6" height="7.6" fill="#fde2a0" stroke="#444" stroke-width="0.8"/>
<text x="68.25" y="77.15" font-size="5.6" fill="#222" stroke="#222" stroke-width="0.12">Male</text>
<rect x="56.45" y="82.70" width="7.6" height="7.6" fill="#c9b6ea" stroke="#444" stroke-width="0.8"/>
<text x="68.25" y="88.40" font-size="5.6" fill="#222" stroke="#222" stroke-width="0.12">Female</text>
<rect x="59.00" y="96.25" width="29.75" height="33.75" fill="#fff" stroke="#ececec" stroke-width="0.5"/>
<text x="60.75" y="102.20" font-size="5.7" font-weight="bold" fill="#111">Age</text>
<line x1="60.00" y1="105.60" x2="88.00" y2="105.60" stroke="#4a4a4a" stroke-width="0.9"/>
<rect x="60.45" y="108.20" width="7.6" height="7.6" fill="#ef8294" stroke="#444" stroke-width="0.8"/>
<text x="72.25" y="113.90" font-size="5.6" fill="#222" stroke="#222" stroke-width="0.12">Years</text>
<rect x="60.45" y="119.45" width="7.6" height="7.6" fill="#ee8208" stroke="#444" stroke-width="0.8"/>
<text x="72.25" y="125.15" font-size="5.6" fill="#222" stroke="#222" stroke-width="0.12">Days</text>
<rect x="59.50" y="132.50" width="65.00" height="33.75" fill="#fff" stroke="#ececec" stroke-width="0.5"/>
<text x="61.50" y="138.75" font-size="5.7" font-weight="bold" fill="#111">Collection Point</text>
<line x1="61.00" y1="141.60" x2="123.50" y2="141.60" stroke="#4a4a4a" stroke-width="0.9"/>
<rect x="61.45" y="144.20" width="7.6" height="7.6" fill="#6cb6f6" stroke="#444" stroke-width="0.8"/>
<text x="72.75" y="149.90" font-size="5.6" fill="#222" stroke="#222" stroke-width="0.12">Abbotabad Hospital</text>
<rect x="61.45" y="155.70" width="7.6" height="7.6" fill="#8c5cf6" stroke="#444" stroke-width="0.8"/>
<text x="72.75" y="161.40" font-size="5.6" fill="#222" stroke="#222" stroke-width="0.12">Mardan Hosptital</text>
<rect x="60.00" y="169.50" width="46.75" height="45.00" fill="#fff" stroke="#ececec" stroke-width="0.5"/>
<text x="61.75" y="175.75" font-size="5.7" font-weight="bold" fill="#111">Virulence score</text>
<line x1="61.50" y1="178.50" x2="105.50" y2="178.50" stroke="#4a4a4a" stroke-width="0.9"/>
<rect x="62.20" y="181.70" width="7.6" height="7.6" fill="#d4a222" stroke="#444" stroke-width="0.8"/>
<text x="73.75" y="187.40" font-size="5.6" fill="#222" stroke="#222" stroke-width="0.12">0</text>
<rect x="62.20" y="192.95" width="7.6" height="7.6" fill="#e0821a" stroke="#444" stroke-width="0.8"/>
<text x="73.75" y="198.65" font-size="5.6" fill="#222" stroke="#222" stroke-width="0.12">1</text>
<rect x="62.20" y="204.45" width="7.6" height="7.6" fill="#d06464" stroke="#444" stroke-width="0.8"/>
<text x="73.75" y="210.15" font-size="5.6" fill="#222" stroke="#222" stroke-width="0.12">4</text>
<rect x="60.75" y="218.75" width="50.75" height="45.50" fill="#fff" stroke="#ececec" stroke-width="0.5"/>
<text x="62.75" y="225.00" font-size="5.7" font-weight="bold" fill="#111">Resistance score</text>
<line x1="62.00" y1="228.00" x2="110.50" y2="228.00" stroke="#4a4a4a" stroke-width="0.9"/>
<rect x="62.70" y="230.95" width="7.6" height="7.6" fill="#d4a222" stroke="#444" stroke-width="0.8"/>
<text x="74.25" y="236.65" font-size="5.6" fill="#222" stroke="#222" stroke-width="0.12">0</text>
<rect x="62.70" y="242.20" width="7.6" height="7.6" fill="#e0821a" stroke="#444" stroke-width="0.8"/>
<text x="74.25" y="247.90" font-size="5.6" fill="#222" stroke="#222" stroke-width="0.12">1</text>
<rect x="62.70" y="253.45" width="7.6" height="7.6" fill="#d06464" stroke="#444" stroke-width="0.8"/>
<text x="74.25" y="259.15" font-size="5.6" fill="#222" stroke="#222" stroke-width="0.12">2</text>
<rect x="13.00" y="130.00" width="46.40" height="193.25" fill="#fff" stroke="#ececec" stroke-width="0.5"/>
<text x="15.00" y="136.25" font-size="5.7" font-weight="bold" fill="#111">MLST</text>
<line x1="14.50" y1="139.25" x2="59.00" y2="139.25" stroke="#4a4a4a" stroke-width="0.9"/>
<rect x="14.70" y="141.95" width="7.6" height="7.6" fill="#ffd966" stroke="#444" stroke-width="0.8"/>
<text x="26.25" y="147.65" font-size="5.6" fill="#222" stroke="#222" stroke-width="0.12">ST147</text>
<rect x="14.70" y="153.32" width="7.6" height="7.6" fill="#d9ead3" stroke="#444" stroke-width="0.8"/>
<text x="26.25" y="159.02" font-size="5.6" fill="#222" stroke="#222" stroke-width="0.12">ST2629</text>
<rect x="14.70" y="164.68" width="7.6" height="7.6" fill="#f9cb9c" stroke="#444" stroke-width="0.8"/>
<text x="26.25" y="170.38" font-size="5.6" fill="#222" stroke="#222" stroke-width="0.12">ST231</text>
<rect x="14.70" y="176.05" width="7.6" height="7.6" fill="#f4cccc" stroke="#444" stroke-width="0.8"/>
<text x="26.25" y="181.75" font-size="5.6" fill="#222" stroke="#222" stroke-width="0.12">ST1310</text>
<rect x="14.70" y="187.42" width="7.6" height="7.6" fill="#9fc5e8" stroke="#444" stroke-width="0.8"/>
<text x="26.25" y="193.12" font-size="5.6" fill="#222" stroke="#222" stroke-width="0.12">ST4</text>
<rect x="14.70" y="198.78" width="7.6" height="7.6" fill="#1ac0b0" stroke="#444" stroke-width="0.8"/>
<text x="26.25" y="204.49" font-size="5.6" fill="#222" stroke="#222" stroke-width="0.12">ST791</text>
<rect x="14.70" y="210.15" width="7.6" height="7.6" fill="#f4cccc" stroke="#444" stroke-width="0.8"/>
<text x="26.25" y="215.85" font-size="5.6" fill="#222" stroke="#222" stroke-width="0.12">ST1307</text>
<rect x="14.70" y="221.52" width="7.6" height="7.6" fill="#c4a8f0" stroke="#444" stroke-width="0.8"/>
<text x="26.25" y="227.22" font-size="5.6" fill="#222" stroke="#222" stroke-width="0.12">ST870</text>
<rect x="14.70" y="232.89" width="7.6" height="7.6" fill="#f6d474" stroke="#444" stroke-width="0.8"/>
<text x="26.25" y="238.59" font-size="5.6" fill="#222" stroke="#222" stroke-width="0.12">ST1307</text>
<rect x="14.70" y="244.25" width="7.6" height="7.6" fill="#fae8b8" stroke="#444" stroke-width="0.8"/>
<text x="26.25" y="249.95" font-size="5.6" fill="#222" stroke="#222" stroke-width="0.12">ST37</text>
<rect x="14.70" y="255.62" width="7.6" height="7.6" fill="#dc1e1e" stroke="#444" stroke-width="0.8"/>
<text x="26.25" y="261.32" font-size="5.6" fill="#222" stroke="#222" stroke-width="0.12">ST859</text>
<rect x="14.70" y="266.99" width="7.6" height="7.6" fill="#a0f58c" stroke="#444" stroke-width="0.8"/>
<text x="26.25" y="272.69" font-size="5.6" fill="#222" stroke="#222" stroke-width="0.12">ST29</text>
<rect x="14.70" y="278.35" width="7.6" height="7.6" fill="#a68428" stroke="#444" stroke-width="0.8"/>
<text x="26.25" y="284.05" font-size="5.6" fill="#222" stroke="#222" stroke-width="0.12">ST1391-1LV</text>
<rect x="14.70" y="289.72" width="7.6" height="7.6" fill="#ead1dc" stroke="#444" stroke-width="0.8"/>
<text x="26.25" y="295.42" font-size="5.6" fill="#222" stroke="#222" stroke-width="0.12">ST147-1LV</text>
<rect x="14.70" y="301.09" width="7.6" height="7.6" fill="#f5c030" stroke="#444" stroke-width="0.8"/>
<text x="26.25" y="306.79" font-size="5.6" fill="#222" stroke="#222" stroke-width="0.12">ST45-1LV</text>
<rect x="14.70" y="312.45" width="7.6" height="7.6" fill="#d9ead3" stroke="#444" stroke-width="0.8"/>
<text x="26.25" y="318.15" font-size="5.6" fill="#222" stroke="#222" stroke-width="0.12">ST1047-1LV</text>
</svg>
</body></html>
